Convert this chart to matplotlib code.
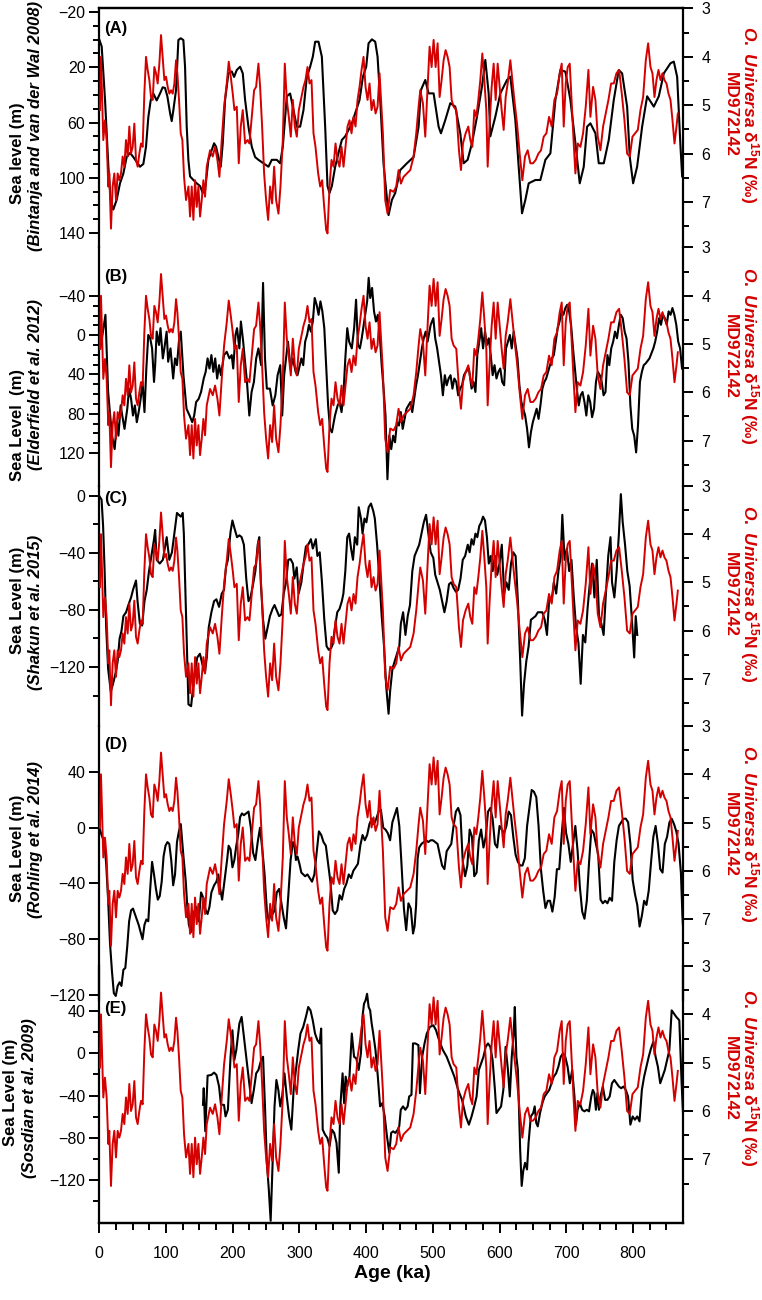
import matplotlib.pyplot as plt
from matplotlib.ticker import FixedLocator

plt.rcParams['font.family'] = ['Liberation Sans', 'DejaVu Sans']
plt.rcParams['mathtext.fontset'] = 'custom'
plt.rcParams['mathtext.rm'] = 'Liberation Sans:bold'
plt.rcParams['mathtext.it'] = 'Liberation Sans:bold:italic'
plt.rcParams['mathtext.bf'] = 'Liberation Sans:bold'

# O. universa d15N, MD972142 (same record in every panel)
age_n15 = [1, 2.5, 6, 8.5, 11, 13.5, 15, 17.5, 20, 22.5, 25, 27.5, 30, 32.5, 35, 37.5, 40, 42.5, 45, 47.5,
           50, 52.5, 55, 57.5, 60, 62.5, 65, 67.5, 70, 72.5, 75, 77.5, 80, 82.5, 85, 87.5, 90, 92.5, 95, 97.5,
           100, 102.5, 105, 107.5, 110, 112.5, 115, 117, 119.5, 122, 124.5, 127, 130, 133.6, 136, 138.5, 141,
           143.5, 146, 148.5, 151, 153.5, 156, 158.5, 161, 166, 170, 173.5, 177, 180, 183.5, 187, 191, 194,
           197, 200, 202.5, 206, 209, 212, 215, 218.5, 222, 225, 228.5, 232, 235, 238.5, 241, 244, 247, 250,
           253, 256, 259, 262, 265, 268.5, 271.5, 275, 278, 281, 284, 287, 290, 293, 296, 299, 302, 306, 309,
           312, 315, 318, 321, 324, 328, 331, 334, 337, 340, 342, 345, 348, 351, 354, 357, 360, 363, 366, 369,
           372, 375, 378, 381, 384, 387, 390, 393, 396, 399, 402, 405, 408, 411, 414, 417, 420, 425, 428.5,
           432, 436, 441, 445, 448.5, 452, 456, 461, 466, 471, 475, 478.5, 481, 485, 488.5, 492, 495, 498,
           501, 504, 507, 510, 513, 516, 519, 522, 525, 528, 531, 535, 539, 542, 545, 549, 553, 556, 559, 562,
           565, 568, 571, 574, 577, 580, 582, 585, 588, 591, 594, 597, 600, 603, 606, 609, 612, 616, 619, 622,
           626, 630, 634, 638, 642, 646, 650, 654, 658, 662, 666, 670, 674, 678, 682, 686, 690, 693, 696, 699,
           702, 705, 708, 711, 713.5, 717, 721, 725, 729, 733, 736, 740, 743.5, 747, 751, 755, 759, 763, 767,
           771, 775, 779, 783, 787, 791, 795, 799, 803, 807, 811, 815, 819, 822.5, 826, 829, 832, 835, 838,
           841, 844, 847, 850, 853, 856, 859, 862, 865, 867]
d15n = [5.1, 4.0, 5.72, 5.31, 5.72, 6.68, 6.41, 7.55, 6.68, 6.41, 6.96, 6.41, 6.55, 6.41, 6.06, 6.27, 5.72,
        6.06, 5.44, 6.0, 5.86, 5.38, 6.13, 6.27, 6.0, 5.79, 5.86, 4.76, 4.0, 4.27, 4.48, 4.83, 4.89, 4.21,
        4.34, 4.55, 4.14, 3.55, 4.0, 4.48, 4.41, 4.62, 4.76, 4.69, 4.76, 4.55, 4.07, 4.34, 4.89, 5.58, 5.72,
        6.48, 6.96, 6.68, 7.3, 6.68, 7.37, 6.55, 7.1, 6.68, 7.3, 6.96, 6.55, 6.89, 6.27, 5.93, 6.06, 5.86,
        6.13, 6.48, 5.72, 5.03, 4.55, 4.1, 4.41, 4.76, 5.1, 5.03, 6.2, 5.44, 5.1, 5.79, 5.72, 5.79, 5.24,
        4.69, 4.62, 4.14, 4.62, 5.44, 6.41, 6.96, 7.37, 6.68, 7.03, 6.27, 6.96, 7.24, 6.68, 5.72, 4.14, 4.89,
        5.24, 5.65, 4.89, 5.44, 5.65, 5.1, 4.89, 4.62, 4.48, 4.21, 4.55, 4.48, 5.58, 5.86, 6.41, 6.68, 6.55,
        7.1, 7.58, 7.65, 6.68, 6.13, 6.27, 5.79, 6.13, 6.27, 5.86, 6.27, 5.86, 5.44, 5.31, 5.58, 5.24, 5.44,
        4.89, 4.62, 4.27, 4.0, 4.62, 4.89, 4.55, 5.1, 4.89, 5.17, 5.03, 4.34, 5.58, 6.96, 7.24, 6.75, 6.79,
        6.68, 6.34, 6.62, 6.48, 6.41, 6.34, 6.06, 5.58, 5.03, 4.69, 4.96, 5.65, 4.62, 3.79, 4.21, 3.65, 4.21,
        3.72, 4.83, 4.48, 4.07, 3.86, 4.0, 4.21, 4.89, 5.03, 5.1, 5.93, 6.34, 5.79, 5.58, 5.44, 5.72, 5.86,
        5.1, 5.24, 4.89, 4.48, 3.93, 4.48, 5.1, 6.27, 5.38, 4.62, 4.14, 4.89, 4.14, 4.62, 5.1, 5.51, 4.83,
        4.55, 4.07, 4.48, 4.89, 5.38, 6.0, 6.55, 6.06, 5.93, 6.2, 6.2, 6.13, 6.0, 5.93, 5.65, 5.58, 5.24,
        5.44, 4.89, 4.76, 4.34, 4.14, 5.44, 4.55, 4.21, 4.14, 4.96, 5.79, 6.41, 5.79, 5.86, 5.58, 5.03, 4.27,
        5.24, 4.62, 4.89, 5.65, 5.93, 5.44, 5.17, 4.89, 4.55, 4.55, 4.34, 4.27, 4.76, 5.31, 6.0, 6.06, 5.65,
        5.58, 5.51, 5.1, 4.83, 4.07, 3.72, 4.21, 4.34, 4.83, 4.48, 4.27, 4.48, 4.34, 4.48, 4.55, 4.76, 4.89,
        5.31, 5.79, 5.44, 5.17]

# (A) Bintanja and van der Wal 2008 (positive = below present)
age_a = [0, 3.6, 8.6, 13.6, 17, 21, 26, 31, 36, 41, 46, 51, 61, 66, 70, 73.5, 77, 81, 86, 91, 95, 98.5,
         102, 106, 108.5, 111, 115, 118.5, 122, 126, 128.5, 131, 133.5, 136, 141, 146, 151, 155, 158.5,
         163.5, 168.5, 172, 175, 178.5, 182, 185, 188.5, 193.5, 198.5, 202, 206, 211, 215, 218.5, 223.5,
         228.5, 233.5, 238.5, 246, 253.5, 258.5, 266, 271, 275, 281, 286, 291, 296, 301, 306, 311, 316,
         320, 323.5, 328.5, 333.5, 338.5, 342, 345, 348.5, 353.5, 358.5, 363.5, 368.5, 373.5, 378.5,
         383.5, 390, 395, 400, 403.5, 408.5, 413.5, 417, 421, 426, 433.5, 438.5, 443.5, 451, 461, 471,
         478.5, 482, 488.5, 493.5, 501, 508.5, 512, 518.5, 526, 533.5, 541, 546, 552, 558.5, 566, 573.5,
         578.5, 583.5, 586, 593.5, 601, 611, 616, 623.5, 628.5, 633.5, 638.5, 643.5, 653.5, 661, 668.5,
         676, 683.5, 691, 698.5, 706, 713.5, 720, 726, 731, 736, 743.5, 748.5, 756, 763.5, 771, 778.5,
         783.5, 791, 795, 800, 806, 813.5, 821, 831, 838.5, 846, 856, 861, 866, 871, 873.5]
sl_a = [0, 5, 43.7, 92, 116, 123, 116, 104, 97, 85, 82, 85, 92, 90, 77.5, 56, 44, 39, 44, 39, 34.5, 35,
        41, 53, 59, 51, 36.5, 0.3, -1, 0.3, 19.6, 63, 87, 99, 101.6, 104, 106, 111, 109, 87, 80, 75, 77.5,
        85, 92, 75, 43.7, 24.4, 23, 27, 22, 19.6, 24.4, 43.7, 63, 77.5, 85, 87, 89.5, 92, 87, 87, 89.5,
        77.5, 41, 39, 51, 63, 63, 51, 27, 19.6, 12.3, 1.5, 1.5, 12.3, 63, 106, 111, 106, 92, 82, 72.6,
        70, 65.4, 60.6, 53.3, 43.7, 27, 19.6, 2.7, -0.2, 1.5, 12.3, 43.7, 90, 127, 116, 111, 94.4, 89.5,
        85, 63, 36.5, 29.2, 38.9, 38.9, 63, 67.8, 58.2, 46, 48.5, 67.8, 89.5, 87, 75, 55.8, 34, 14.7,
        38.9, 70, 55.8, 38.9, 29.2, 26.8, 58.2, 92, 125.7, 116, 104, 101.6, 101.6, 87, 82.3, 43.7, 22,
        23.2, 43.7, 75, 104, 92, 63, 60.6, 67.8, 89.5, 89.5, 72.6, 43.7, 22, 24.4, 48.5, 85, 104, 92, 63,
        41, 48.5, 41, 24.4, 17.1, 15.9, 27, 77.5, 99]

# (B) Elderfield et al. 2012 (positive = below present)
age_b = [1.7, 9.2, 13.2, 19, 23, 26.4, 28.7, 32, 34.4, 37.8, 41.9, 44.7, 47.6, 50.5, 53.3, 56.2, 59, 62,
         64.8, 67.7, 70.5, 73.4, 76.3, 79.1, 82, 83.7, 86, 89.5, 91.7, 95.2, 97.5, 100.9, 103.2, 106.7,
         110.7, 113.5, 116.4, 119.3, 122.1, 126.1, 130.7, 135.3, 139.3, 142.2, 145.1, 149, 152.5, 156.5,
         159.4, 162.3, 165.1, 168, 170.9, 173.7, 176.6, 179.5, 182.3, 186.9, 190.9, 195, 198.4, 200.7,
         204.1, 206.4, 209.9, 212.2, 215.6, 217.9, 221.3, 224.8, 228.2, 231.7, 235.1, 238.5, 242.5, 245.4,
         248.3, 251.1, 255.7, 259.8, 263.8, 267.2, 271.2, 274.1, 277, 279.8, 282.7, 286.7, 290.1, 294.2,
         297, 302.8, 305.6, 308.5, 311.4, 314.2, 317.1, 320, 322.8, 325.7, 328.6, 331.4, 334.3, 337.2,
         340, 342.9, 345.8, 348.6, 353.2, 357.2, 360.1, 363, 365.8, 368.7, 371.6, 374.4, 378.4, 381.9,
         384.8, 387.6, 390.5, 393.3, 396.2, 399.1, 401.4, 403.7, 406, 408.8, 411.7, 414.6, 417.4, 420.3,
         423.2, 426, 428.9, 431.8, 434.6, 437.5, 440.4, 443.2, 446.1, 449, 451.8, 454.7, 457.6, 460.4,
         463.3, 466.2, 469, 471.9, 474.8, 477.6, 480.5, 483.4, 486.2, 489.1, 492, 496.6, 500.6, 503.4,
         506.3, 509.2, 512, 514.9, 517.8, 520.6, 523.5, 526.4, 529.2, 532.1, 535, 537.8, 540.7, 543.6,
         546.5, 549.3, 553.9, 557.9, 560.8, 563.7, 566.5, 569.4, 572.3, 575.1, 578, 580.9, 583.7, 586.6,
         589.5, 592.3, 595.2, 598.1, 600.9, 603.8, 606.7, 609.5, 612.4, 615.3, 618.1, 621, 623.9, 626.7,
         629.6, 632.5, 635.3, 638.2, 641.1, 643.9, 646.8, 649.7, 652.5, 655.4, 658.3, 661.1, 664, 666.9,
         669.7, 672.6, 675.5, 678.3, 681.2, 686.9, 689.8, 692.7, 695.5, 698.4, 701.3, 704.1, 707, 709.9,
         712.7, 715.6, 718.5, 721.3, 724.2, 727.1, 729.9, 732.8, 735.7, 738.5, 741.4, 744.3, 747.1, 750,
         752.9, 755.7, 758.6, 761.5, 764.3, 767.2, 770.1, 772.9, 775.8, 778.7, 781.5, 784.4, 787.3, 790.1,
         793, 795.9, 798.7, 801.6, 804.5, 807.3, 810.2, 813.1, 815.9, 818.8, 824.5, 830.3, 833.1, 836,
         838.9, 841.7, 844.6, 847.5, 850.3, 853.2, 856.1, 858.9, 861.8, 864.7, 867.6, 870.4, 873.3]
sl_b = [13.4, -20.8, 57.8, 102.3, 116, 88.6, 102.3, 71.5, 81.8, 95.4, 74.9, 54.4, 64.7, 81.8, 71.5, 88.6,
        78.3, 64.7, 47.6, 78.3, 33.9, -0.3, 3.1, 13.4, 47.6, 30.5, -3.7, 9.9, -7.2, 23.6, 13.4, -3.7, 27,
        13.4, 44.1, 23.6, 30.5, 6.5, -3.7, 40.7, 74.9, 81.8, 88.6, 81.8, 68.1, 64.7, 57.8, 44.1, 37.3,
        23.6, 33.9, 20.2, 37.3, 23.6, 44.1, 30.5, 40.7, 20.2, 16.8, 23.6, 20.2, 33.9, -0.3, -7.2, 13.4,
        -14, 6.5, 23.6, 47.6, 81.8, 57.8, 47.6, 23.6, 13.4, 30.5, -53.3, 23.6, 54.4, 54.4, 71.5, 61.2,
        40.7, 30.5, 81.8, 40.7, 23.6, 6.5, 33.9, 23.6, 37.3, 40.7, 23.6, 30.5, 6.5, -0.3, -10.6, -3.7,
        -14, -38, -31.1, -20.8, -34.5, -24.3, -7.2, 30.5, 71.5, 95.4, 98.9, 81.8, 71.5, 68.1, 78.3, 61.2,
        23.6, -7.2, 6.5, 13.4, -7.2, -36.2, 9.9, 13.4, 3.1, -10.6, -24.3, -34.5, -58.5, -38, -48.2, -24.3,
        -14, -20.8, -0.3, 30.5, 54.4, 81.8, 146.7, 102.3, 116, 102.3, 109.1, 88.6, 92, 78.3, 95.4, 85.2,
        74.9, 71.5, 68.1, 78.3, 64.7, 51, 40.7, 27, 13.4, 3.1, -3.7, 6.5, -10.6, -17.4, 3.1, 13.4, 27,
        40.7, 61.2, 40.7, 51, 44.1, 40.7, 54.4, 44.1, 47.6, 61.2, 54.4, 51, 40.7, 37.3, 33.9, 54.4, 47.6,
        57.8, 20.2, 6.5, -7.2, 13.4, -3.7, 9.9, 3.1, 20.2, 40.7, 30.5, 44.1, 37.3, 33.9, 47.6, 51, 13.4,
        6.5, -0.3, 13.4, -3.7, 9.9, 23.6, 51, 68.1, 74.9, 81.8, 95.4, 114.2, 98.9, 88.6, 81.8, 74.9, 85.2,
        71.5, 54.4, 47.6, 44.1, 37.3, 30.5, 23.6, 20.2, -7.2, -14, -24.3, -20.8, -27.7, -31.1, -24.3,
        -10.6, 13.4, 33.9, 54.4, 71.5, 61.2, 57.8, 68.1, 81.8, 61.2, 68.1, 83.5, 74.9, 47.6, 37.3, 40.7,
        47.6, 61.2, 57.8, 20.2, 30.5, 13.4, 6.5, -3.7, 3.1, -10.6, -20.8, -17.4, -3.7, 3.1, 27, 71.5, 95.4,
        102.3, 119.4, 92, 47.6, 37.3, 30.5, 28.7, 23.6, 13.4, 6.5, -3.7, -17.4, -10.6, -20.8, -17.4, -10.6,
        -24.3, -20.8, -27.7, -20.8, -10.6, 6.5, 13.4, 33.9]

# (C) Shakun et al. 2015
age_c = [0, 3.4, 5.7, 8, 10.3, 13.2, 17.2, 20.6, 24.6, 27.5, 30.4, 33.2, 36.1, 40.1, 43.6, 47.6, 50.5, 55,
         57.3, 60.8, 64.2, 67.7, 71.1, 74.5, 78, 82, 83.7, 86, 90.6, 95.2, 101, 104.9, 108.9, 112.4, 116.4,
         119.3, 122.1, 125, 126.7, 129, 131.3, 133.6, 137.6, 139.9, 142.2, 146.8, 150.8, 154.8, 158.3,
         161.1, 164, 168, 172, 175.5, 179.5, 183.5, 186.9, 189.8, 192.7, 196.7, 199.5, 202.4, 206.4,
         209.9, 213.3, 216.7, 220.2, 223.6, 226.5, 229.9, 233.9, 237.4, 239.7, 242, 245.4, 248.8, 252.3,
         255.7, 259.7, 262.6, 266, 269.5, 272.9, 276.4, 279.8, 283.2, 286.7, 290.1, 292.4, 295.9, 298.7,
         302.8, 306.2, 309.6, 313.1, 317.1, 320, 324.5, 326.8, 330.3, 333.7, 337.2, 340.6, 344, 347.5,
         349.8, 353.2, 356.6, 360.1, 363.5, 365.8, 368.7, 371.6, 374.4, 377.3, 380.2, 383, 386.5, 388.8,
         392.2, 394.5, 397.4, 400.3, 403.7, 407.1, 410.6, 412.9, 416.3, 419.8, 423.2, 426.7, 430.1, 433.5,
         435.8, 439.3, 442.7, 446.2, 449.6, 451.9, 455.3, 458.8, 462.2, 465.6, 469.1, 472.5, 475.9, 479.4,
         482.8, 486.3, 489.7, 493.1, 496.6, 500.6, 503.4, 506.9, 510.3, 513.7, 517.2, 520.6, 524.1, 527.5,
         531, 534.4, 537.8, 541.3, 544.7, 548.2, 552.2, 555, 557.9, 560.8, 563.7, 566.5, 569.4, 572.3,
         575.1, 578, 580.9, 583.7, 586.6, 589.5, 592.9, 596.4, 599.8, 603.2, 606.7, 610.1, 613.6, 617,
         620.4, 623.9, 627.3, 630.8, 633.6, 636.5, 639.9, 643.4, 646.8, 650.3, 653.7, 657.2, 660.6, 664,
         667.5, 670.9, 674.4, 677.8, 681.2, 684.7, 688.1, 691.6, 693.9, 697.3, 700.7, 704.2, 707.6, 711.1,
         714.5, 718, 721.4, 724.8, 728.3, 731.7, 735.2, 738.6, 742, 745.5, 748.9, 752.4, 755.8, 759.2,
         762.7, 766.1, 768.4, 771.9, 775.3, 778.7, 781.6, 784.4, 787.9, 791.3, 794.8, 798.2, 801.6, 803.9,
         806.2]
sl_c = [0, -2.6, -21.1, -52.7, -92.2, -121.2, -137.1, -131.8, -123.9, -116, -100.1, -94.8, -84.3, -81.6,
        -76.5, -71.2, -65.9, -59.3, -73.8, -89.6, -90.9, -73.8, -65.9, -52.7, -42.1, -30.3, -23.8, -44.8,
        -47.4, -44.8, -28.9, -44.8, -39.5, -26.4, -11.9, -13.2, -14.5, -11.9, -26.4, -65.9, -105.4, -146.2,
        -147.5, -137.1, -126.5, -113.3, -110.7, -118.6, -123.9, -113.3, -92.2, -81.6, -73.8, -72.5, -77.8,
        -68.5, -65.9, -50.1, -44.8, -25.1, -17.2, -22.4, -28.9, -27.6, -28.9, -34.2, -58, -73.8, -71.2,
        -63.3, -52.7, -34.2, -28.9, -60.6, -86.9, -100.1, -92.2, -84.3, -79.1, -76.5, -80.4, -84.3, -83.1,
        -68.5, -60.6, -44.8, -44.3, -47.4, -58, -50.1, -68.5, -60.6, -47.4, -35.5, -34.2, -30.3, -36.9,
        -30.3, -42.1, -39.5, -60.6, -86.9, -105.4, -108, -106.7, -104.1, -92.2, -81.6, -79.1, -73.8, -68.5,
        -52.7, -28.9, -26.4, -36.9, -44.8, -28.9, -34.2, -7.9, -15.8, -26.4, -15.8, -18.5, -7.9, -5.3,
        -10.6, -15.8, -34.2, -58, -84.3, -105.4, -134.4, -152.8, -137.1, -121.2, -116, -110.7, -105.4,
        -89.6, -81.6, -97.5, -84.3, -76.5, -52.7, -42.1, -38.2, -34.2, -26.4, -18.5, -13.2, -26.4, -39.5,
        -43.5, -55.3, -60.6, -65.9, -73.8, -81.6, -73.8, -61.9, -60.6, -64.6, -67.2, -65.9, -58, -44.8,
        -42.1, -34.2, -39.5, -30.3, -34.2, -26.4, -28.9, -21.1, -18.5, -14.5, -17.2, -28.9, -47.4, -42.1,
        -52.7, -42.1, -55.3, -47.4, -34.2, -68.5, -60.6, -65.9, -47.4, -39.5, -42.1, -73.8, -116, -154.1,
        -131.8, -116, -105.4, -86.9, -85.6, -84.3, -81.6, -81.6, -81.6, -86.9, -97.5, -71.2, -73.8, -60.6,
        -68.5, -52.7, -42.1, -13.2, -44.8, -36.9, -52.7, -44.8, -71.2, -92.2, -102.8, -131.8, -97.5,
        -102.8, -79.1, -60.6, -47.4, -71.2, -44.8, -84.3, -89.6, -97.5, -68.5, -42.1, -28.9, -60.6, -71.2,
        -52.7, -26.4, 1.3, -18.5, -34.2, -52.7, -63.3, -86.9, -113.3, -84.3, -97.5]

# (D) Rohling et al. 2014
age_d = [0, 3.4, 7.5, 10.3, 13.2, 16, 19, 21.8, 24.7, 27.5, 30.4, 33.2, 36.1, 39, 41.9, 44.7, 47.6, 50.5,
         53.3, 56.2, 59, 61.9, 64.8, 67.7, 70.5, 73.4, 76.3, 79.1, 82, 84.9, 87.7, 90.6, 93.5, 96.3, 99.2,
         102.1, 104.9, 107.8, 110.7, 113.5, 116.4, 119.3, 122.1, 126.1, 129.6, 131.9, 134.2, 137.6, 141,
         145.1, 149.1, 152.5, 155.9, 159.4, 162.3, 165.1, 168, 172, 175.5, 178.3, 181.2, 184.1, 188.1,
         191.5, 193.8, 196.7, 199.5, 202.4, 205.3, 208.1, 211, 213.9, 216.7, 220.2, 223.6, 227.1, 230.5,
         233.9, 237.4, 240.8, 244.3, 247.7, 251.1, 254, 256.8, 259.7, 262.6, 266, 269.5, 272.9, 276.4,
         279.8, 283.2, 286.7, 290.1, 292.4, 294.7, 297, 299.9, 302.8, 305.6, 308.5, 311.9, 315.4, 318.8,
         322.3, 325.7, 329.1, 332.6, 336, 339.5, 342.9, 346.3, 349.8, 353.2, 356.6, 360.1, 363.5, 367,
         370.4, 373.9, 377.3, 380.7, 384.2, 387.6, 391.1, 394.5, 397.9, 401.4, 404.8, 408.3, 411.7, 415.1,
         418.6, 422, 425.5, 428.9, 432.3, 435.8, 439.2, 442.7, 446.1, 449.6, 453, 456.5, 459.9, 463.3,
         466.8, 470.2, 472.5, 474.8, 477.1, 479.4, 482.8, 486.3, 489.7, 493.1, 496.6, 500, 503.4, 506.9,
         510.3, 513.7, 517.2, 520.6, 524.1, 527.5, 530.9, 534.4, 537.8, 541.3, 544.7, 548.2, 551.6, 555,
         558.5, 561.9, 565.4, 568.8, 572.2, 575.7, 579.1, 582.6, 586, 589.4, 592.9, 596.3, 599.8, 603.2,
         606.7, 610.1, 613.5, 617, 620.4, 623.9, 627.3, 630.8, 634.2, 637.7, 641.1, 644.5, 648, 651.4,
         654.9, 658.3, 661.8, 665.2, 668.6, 672.1, 675.5, 679, 682.4, 685.8, 689.3, 692.7, 696.2, 699.6,
         703, 706.5, 709.9, 713.4, 716.8, 720.2, 723.7, 727.1, 730.6, 734, 737.4, 740.9, 744.3, 747.7,
         751.2, 754.6, 758.1, 761.5, 764.9, 768.4, 771.8, 775.3, 778.7, 782.1, 785.6, 789, 792.5, 795.9,
         799.3, 802.8, 806.2, 809.7, 813.1, 816.5, 820, 823.4, 826.9, 830.3, 833.7, 837.2, 840.6, 844.1,
         847.5, 850.9, 854.4, 857.8, 861.3, 864.7, 868.1, 871.6, 873.9, 876.2]
sl_d = [0, -5.2, -10.3, -25.8, -51.6, -82.6, -103.2, -118.7, -120.7, -113.5, -110.9, -113.5, -101.9,
        -100.6, -85.1, -67.1, -59.3, -58, -61.9, -65.8, -69.7, -74.8, -80, -69.7, -65.8, -67.1, -43.9,
        -24.5, -33.5, -43.9, -51.6, -49, -38.7, -20.6, -12.9, -10.3, -11.6, -23.2, -41.3, -33.5, -10.3,
        -2.6, 2.6, -20.6, -38.7, -56.8, -69.7, -74.8, -61.9, -56.8, -67.1, -46.4, -50.3, -59.3, -61.9,
        -56.8, -46.4, -41.3, -38.7, -33.5, -43.9, -51.6, -36.1, -23.2, -12.9, -15.5, -28.4, -23.2, -12.9,
        -5.2, 7.7, 10.3, 9, 10.3, 11.6, 0, -18, -23.2, -10.3, 0, -15.5, -33.5, -59.3, -67.1, -61.9, -61.9,
        -59.3, -46.4, -43.9, -54.2, -64.5, -72.2, -49, -23.2, -10.3, -12.9, -23.2, -20.6, -25.8, -32.2,
        -33.5, -34.8, -33.5, -36.1, -38.7, -33.5, -18, -2.6, -5.2, -10.3, -12.9, -25.8, -38.7, -59.3, -61.9,
        -59.3, -48.4, -51.6, -43.9, -40, -33.5, -36.1, -30.9, -28.4, -25.8, -12.9, -5.2, -9, -5.2, 2.6,
        6.5, 2.6, 6.5, 11.6, 12.9, 0, -1.3, -3.9, -9, 3.9, 9, 14.2, 1.3, -27.1, -58, -73.5, -54.2, -58,
        -75.9, -70.7, -55.4, -21.9, -14.2, -11.6, -10.3, -9, -10.3, -9, -9, -10.3, -11.6, -19.4, -27.1,
        -29.7, -16.8, -14.2, -11.6, 1.3, 11.6, 14.2, 9, -24.5, -34.8, -27.1, -1.3, -6.5, -34.8, -32.2, -9,
        -1.3, -14.2, -6.5, 11.6, 14.2, 6.5, -11.6, -14.2, 1.3, -1.3, -3.9, 1.3, 11.6, 9, -6.5, -19.4,
        -24.5, -27.1, -27.1, -21.9, 1.3, 14.2, 27.1, 25.8, 21.9, 1.3, -29.7, -45.1, -57.6, -52.4, -52.4,
        -60.2, -49.8, -29.7, -29.7, -6.5, 14.2, -3.9, -11.6, -24.5, -11.6, 1.3, -16.8, -42.6, -60.2, -65.3,
        -52.4, -24.5, -1.3, -3.9, -11.6, -19.4, -51.6, -54.2, -52.4, -54.2, -50.3, -52.4, -24.5, -9, 1.3,
        3.9, 6.5, 6.5, 3.9, -11.6, -37.4, -47.7, -55.4, -70.9, -63.2, -52.4, -55.4, -45.1, -24.5, -6.5,
        1.3, -11.6, -29.7, -32.2, -11.6, -6.5, 3.9, 6.5, 2.6, -2.6, -11.6, -32.2, -63.2, -83.8]

# (E) Sosdian et al. 2009
age_e = [155.4, 156.5, 158.8, 162.3, 168, 172, 175.5, 179.5, 182.3, 186.9, 189.2, 192.7, 196.7, 199.5,
         202.4, 205.3, 209.9, 213.3, 216.7, 221.3, 225.4, 228.2, 231.6, 235.1, 238.5, 242.5, 245.4, 248.3,
         251.1, 254, 256.8, 259.7, 262.6, 265.4, 268.3, 271.2, 274, 277.5, 280.9, 284.4, 287.8, 291.2,
         294.7, 298.1, 301.5, 305.6, 309.6, 313.1, 316.5, 319.9, 323.3, 326.8, 330.2, 332.5, 334.8, 338.3,
         341.7, 345.1, 348.6, 352, 355.5, 358.9, 361.2, 364.6, 366.9, 369.2, 371.5, 374.9, 378.4, 381.8,
         385.2, 388.7, 392.1, 394.4, 396.7, 399, 401.3, 403.6, 405.9, 408.2, 410.5, 413.9, 417.4, 420.8,
         424.2, 427.7, 431.1, 434.6, 437.4, 440.3, 443.7, 447.2, 449.5, 451.8, 455.2, 458.6, 462.1, 464.4,
         467.8, 470.1, 473.6, 478.2, 480.5, 483.9, 487.4, 490.8, 495.4, 500.6, 504.6, 509.2, 514.9, 520.6,
         526.4, 532.1, 537.8, 543.6, 549.3, 553.9, 557.9, 561.9, 565.4, 568.8, 572.2, 575.7, 579.1, 582.5,
         586, 589.4, 592.9, 595.2, 598.6, 602.1, 605.5, 608.9, 612.4, 615.2, 618.1, 621, 622.7, 625, 627.3,
         630.7, 633, 635.3, 638.1, 641, 643.3, 646.7, 650.2, 652.5, 654.8, 657.1, 660.5, 664, 667.4, 670.8,
         674.3, 677.7, 681.1, 684.6, 688, 691.5, 694.9, 698.3, 701.8, 705.2, 708.7, 712.1, 714.4, 716.7,
         720.1, 723.6, 727, 730.5, 733.9, 737.3, 739.6, 741.9, 744.2, 746.5, 748.8, 751.1, 754.6, 758,
         761.5, 764.9, 768.3, 771.8, 775.2, 778.7, 782.1, 785.5, 789, 792.4, 795.9, 799.3, 802.7, 806.2,
         809.6, 813.1, 816.5, 819.9, 823.4, 826.8, 830.3, 833.7, 837.1, 840.6, 844, 847.5, 850.9, 854.3,
         857.8, 861.2, 864.7, 869.2, 872.7, 876.1]
sl_e = [-48.8, -33.1, -73.9, -21.2, -20.5, -18.3, -20.5, -31.5, -48.8, -48.8, -59.8, -53.5, -3.3, 21.8,
        -6.4, 3, 28.1, 34.4, 15.5, -9.6, -31.5, -47.2, -34.7, -19, -15.8, -6.4, -3.3, -50.3, -103.7, -128.8,
        -158.6, -103.7, -50.3, -25.3, -34.7, -50.3, -40.9, -19, -40.9, -59.8, -72.3, -34.7, -15.8, 3, 18.7,
        24.9, 34.4, 43.8, 40.6, 31.2, 18.7, 12.4, 9.3, 23.4, -72.3, -77, -80.1, -88, -72.3, -75.4, -84.9,
        -113.1, -50.3, -19, -47.2, -22.1, -31.5, -22.1, 18.7, -3.3, -4.9, -15.8, 0, 34.4, 46.9, 50, 56.3,
        43.8, 40.6, 28.1, 18.7, 3, -22.1, -50.3, -47.2, -59.8, -78.6, -94.3, -75.4, -73.9, -75.4, -72.3,
        -69.2, -53.5, -50.3, -53.5, -50.3, -40.9, -39.4, 9.3, 9.3, 7.7, -37.8, -3.3, 9.3, 18.7, 24.9, 26.5,
        21.8, 12.4, 3, -3.3, -12.7, -22.1, -34.7, -44.1, -59.8, -67.6, -59.8, -50.3, -40.9, -15.8, -9.6,
        -3.3, 6.1, 9.3, 6.1, -6.4, -34.7, -56.6, -53.5, -50.3, -34.7, 6.1, -15.8, -40.9, -3.3, 18.7, 43.8,
        -3.3, -15.8, -91.1, -125.6, -111.5, -103.7, -110, -84.9, -59.8, -56.6, -50.3, -66, -69.2, -56.6,
        -47.2, -40.9, -37.8, -34.7, -28.4, -22.1, -19, -12.7, -3.3, -0.1, -3.3, -12.7, -28.4, -15.8, -40.9,
        -67.6, -53.5, -47.2, -53.5, -55, -53.5, -55, -40.9, -34.7, -37.8, -53.5, -37.8, -53.5, -40.9, -31.5,
        -44.1, -44.1, -40.9, -28.4, -25.3, -28.4, -31.5, -33.1, -31.5, -34.7, -40.9, -67.6, -59.8, -62.9,
        -59.8, -64.5, -34.7, -22.1, -12.7, -3.3, 4.6, 10.8, -3.3, -12.7, -28.4, -22.1, -15.8, -6.4, 3,
        40.6, 37.5, 34.4, 31.2, -28.4, -75.4]

letters = ['(A)', '(B)', '(C)', '(D)', '(E)']
left_line1 = ['Sea level (m)', 'Sea Level  (m)', 'Sea Level (m)', 'Sea Level (m)', 'Sea Level (m)']
left_line2 = ['(Bintanja and van der Wal 2008)', '(Elderfield et al. 2012)', '(Shakun et al. 2015)',
              '(Rohling et al. 2014)', '(Sosdian et al. 2009)']
sea_series = [(age_a, sl_a), (age_b, sl_b), (age_c, sl_c), (age_d, sl_d), (age_e, sl_e)]

# layout in pixels of the 762x1300 picture
W, H = 762, 1300
X0, X1 = 99.3, 682.5
RED = '#d40000'
# top px, bottom px, left ylim (bottom, top), right ylim (bottom, top), left majors, left minors
panels = [
    (8, 247, (150.1, -22.9), (7.93, 2.99), [-20, 20, 60, 100, 140], list(range(-10, 140, 10))),
    (247, 486, (153.6, -89.9), (7.94, 2.99), [-40, 0, 40, 80, 120], list(range(-30, 130, 10))),
    (486, 726, (-161.4, 7.0), (7.98, 3.0), [0, -40, -80, -120], [-20, -60, -100, -140]),
    (726, 1000, (-123.6, 73.0), (8.67, 3.0), [40, 0, -40, -80, -120], []),
    (966, 1222.7, (-160.4, 82.6), (8.31, 3.0), [40, 0, -40, -80, -120], [20, -20, -60, -100, -140]),
]
letter_y = [29, 277, 498, 745, 1008]
lab1_y = [153, 425, 600, 848, 1092]
lab2_y = [126, 385, 612, 840, 1098]
lab_x = [(17.5, 36), (17.5, 36), (17.5, 36), (17.5, 36), (11, 30)]
right_y = [115, 356, 594, 834, 1078]

fig = plt.figure(figsize=(W / 100, H / 100), dpi=100)

for i, (top, bot, ylim_l, ylim_r, maj_l, min_l) in enumerate(panels):
    rect = [X0 / W, 1 - bot / H, (X1 - X0) / W, (bot - top) / H]
    ax = fig.add_axes(rect)
    ax.patch.set_alpha(0)
    age, sl = sea_series[i]
    ax.plot(age, sl, color='black', lw=1.5)
    ax.set_xlim(0, 874)
    ax.set_ylim(*ylim_l)
    ax.yaxis.set_major_locator(FixedLocator(maj_l))
    ax.yaxis.set_minor_locator(FixedLocator(min_l))

    ax2 = ax.twinx()
    ax2.plot(age_n15, d15n, color=RED, lw=1.4)
    ax2.set_ylim(*ylim_r)
    ax2.yaxis.set_major_locator(FixedLocator([3, 4, 5, 6, 7]))
    ax2.yaxis.set_minor_locator(FixedLocator([3.5, 4.5, 5.5, 6.5, 7.5]))

    for a in (ax, ax2):
        a.spines['top'].set_visible(i == 0)
        a.spines['bottom'].set_visible(i == 4)
        for s in a.spines.values():
            s.set_linewidth(1.6)
    ax.spines['right'].set_visible(False)
    ax2.spines['left'].set_visible(False)

    ax.tick_params(axis='y', which='major', direction='out', length=7.5, width=1.4, labelsize=11.5, pad=2.5)
    ax.tick_params(axis='y', which='minor', direction='out', length=4.3, width=1.4)
    ax2.tick_params(axis='y', which='major', direction='out', length=7.5, width=1.4, labelsize=11.5, pad=6)
    ax2.tick_params(axis='y', which='minor', direction='out', length=4.3, width=1.4)

    if i == 4:
        ax.set_xticks(range(0, 801, 100))
        ax.xaxis.set_minor_locator(FixedLocator(range(25, 876, 25)))
        ax.tick_params(axis='x', which='major', direction='out', length=7.5, width=1.4, labelsize=11.5, pad=9)
        ax.tick_params(axis='x', which='minor', direction='out', length=4.8, width=1.4)
    else:
        ax.tick_params(axis='x', which='both', bottom=False, labelbottom=False)
    ax2.tick_params(axis='x', which='both', bottom=False, top=False)

    # panel letter
    fig.text(104 / W, 1 - letter_y[i] / H, letters[i], fontsize=12, fontweight='bold', va='center', ha='left')

    # left axis label (two lines)
    fig.text(lab_x[i][0] / W, 1 - lab1_y[i] / H, left_line1[i], rotation=90, fontsize=12,
             fontweight='bold', ha='center', va='center')
    fig.text(lab_x[i][1] / W, 1 - lab2_y[i] / H, left_line2[i], rotation=90, fontsize=12,
             fontweight='bold', fontstyle='italic', ha='center', va='center')

    # right axis label
    fig.text(749 / W, 1 - right_y[i] / H, r'$\mathit{O.\ Universa}$ $\mathrm{\delta}^{\mathrm{15}}$N (‰)',
             rotation=270, fontsize=12.5, fontweight='bold', color=RED, ha='center', va='center')
    fig.text(730 / W, 1 - right_y[i] / H, 'MD972142', rotation=270, fontsize=12.5, fontweight='bold',
             color=RED, ha='center', va='center')

fig.text(392 / W, 1 - 1273 / H, 'Age (ka)', fontsize=14, fontweight='bold', ha='center', va='center')

plt.savefig('out.png', dpi=100)
plt.close()
print('Plot saved to out.png')
